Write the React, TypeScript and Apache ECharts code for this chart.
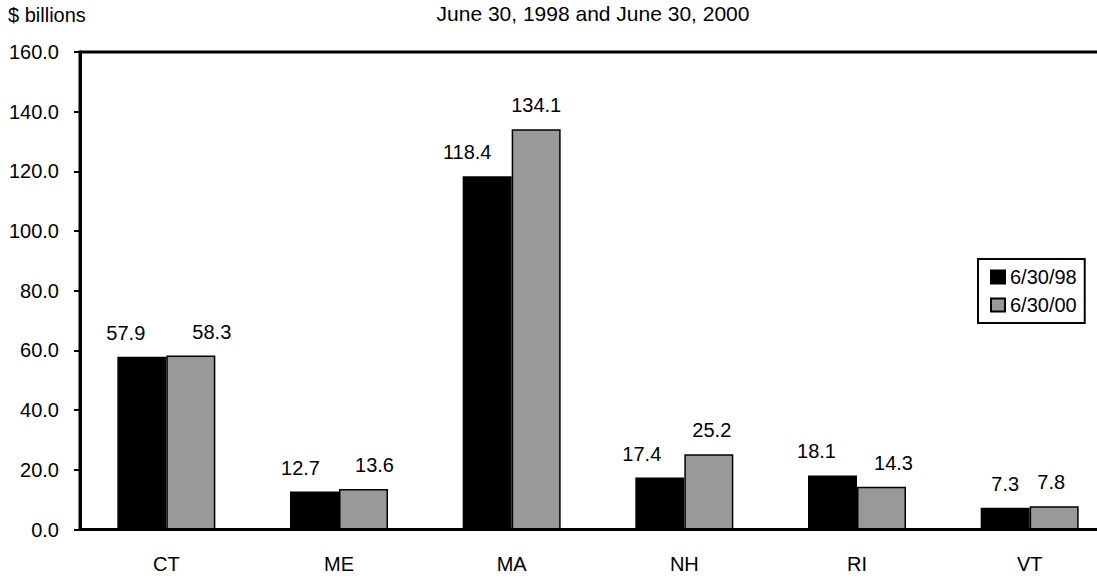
import React, { useEffect, useRef } from "react";
import * as echarts from "echarts";

// New England states
const states = ["CT", "ME", "MA", "NH", "RI", "VT"];
// Values in $ billions
const values1998 = [57.9, 12.7, 118.4, 17.4, 18.1, 7.3];
const values2000 = [58.3, 13.6, 134.1, 25.2, 14.3, 7.8];
const seriesNames = ["6/30/98", "6/30/00"];
const yTicks = [0, 20, 40, 60, 80, 100, 120, 140, 160];

// Horizontal nudges for value labels so neighbouring labels don't crowd
const shift1998 = [-16, -14, -20, -18, -16, 0];
const shift2000 = [21, 11, 0, 3, 12, -3];

const FONT = "Arial, 'Liberation Sans', Helvetica, sans-serif";

export default function App() {
  const ref = useRef<HTMLDivElement>(null);

  useEffect(() => {
    if (!ref.current) return;
    const chart = echarts.init(ref.current, undefined, { renderer: "svg" });

    const makeData = (vals: number[], shifts: number[]) =>
      vals.map((v, i) => ({
        value: v,
        label: { offset: [shifts[i], 0] },
      }));

    const labelStyle = {
      show: true,
      position: "top" as const,
      distance: 14,
      fontSize: 20,
      color: "#000",
      fontFamily: FONT,
      formatter: (p: any) => Number(p.value).toFixed(1),
    };

    chart.setOption({
      animation: false,
      textStyle: { fontFamily: FONT },
      title: [
        {
          text: "$ billions",
          left: 8,
          top: 5,
          padding: 0,
          textStyle: { fontSize: 20, fontWeight: "normal", color: "#000", fontFamily: FONT },
        },
        {
          text: "June 30, 1998 and June 30, 2000",
          left: 593,
          textAlign: "center",
          top: 3,
          padding: 0,
          textStyle: { fontSize: 21, fontWeight: "normal", color: "#000", fontFamily: FONT },
        },
      ],
      legend: {
        orient: "vertical",
        left: 978,
        top: 259,
        data: seriesNames,
        icon: "rect",
        itemWidth: 14,
        itemHeight: 13,
        itemGap: 8,
        padding: [8, 8, 8, 12],
        borderColor: "#000",
        borderWidth: 2,
        backgroundColor: "#fff",
        textStyle: { fontSize: 20, color: "#000", fontFamily: FONT, padding: [0, 0, 0, 0] },
      },
      grid: {
        left: 80,
        top: 52,
        width: 1036,
        height: 477.5,
        show: true,
        borderColor: "#000",
        borderWidth: 3,
      },
      xAxis: {
        type: "category",
        data: states,
        axisLine: { show: true, lineStyle: { color: "#000", width: 3 } },
        axisTick: { show: false },
        axisLabel: { fontSize: 20, color: "#000", margin: 24, fontFamily: FONT },
      },
      yAxis: {
        type: "value",
        min: yTicks[0],
        max: yTicks[yTicks.length - 1],
        interval: 20,
        splitLine: { show: false },
        axisLine: { show: true, lineStyle: { color: "#000", width: 3 } },
        axisTick: { show: true, length: 6, lineStyle: { color: "#000", width: 2 } },
        axisLabel: {
          fontSize: 20,
          color: "#000",
          margin: 21,
          fontFamily: FONT,
          formatter: (v: number) => v.toFixed(1),
        },
      },
      series: [
        {
          name: seriesNames[0],
          type: "bar",
          barWidth: 49,
          barGap: "0%",
          data: makeData(values1998, shift1998),
          itemStyle: { color: "#000", borderColor: "#000", borderWidth: 1.5 },
          label: labelStyle,
        },
        {
          name: seriesNames[1],
          type: "bar",
          barWidth: 49,
          barGap: "0%",
          data: makeData(values2000, shift2000),
          itemStyle: { color: "#999999", borderColor: "#000", borderWidth: 1.5 },
          label: labelStyle,
        },
      ],
    });

    return () => chart.dispose();
  }, []);

  // The canvas runs a little past the right edge of the page so the plot frame's
  // right side falls outside the visible area.
  return (
    <div
      ref={ref}
      style={{ position: "fixed", left: 0, top: 0, width: 1130, height: 578, background: "#fff" }}
    />
  );
}
